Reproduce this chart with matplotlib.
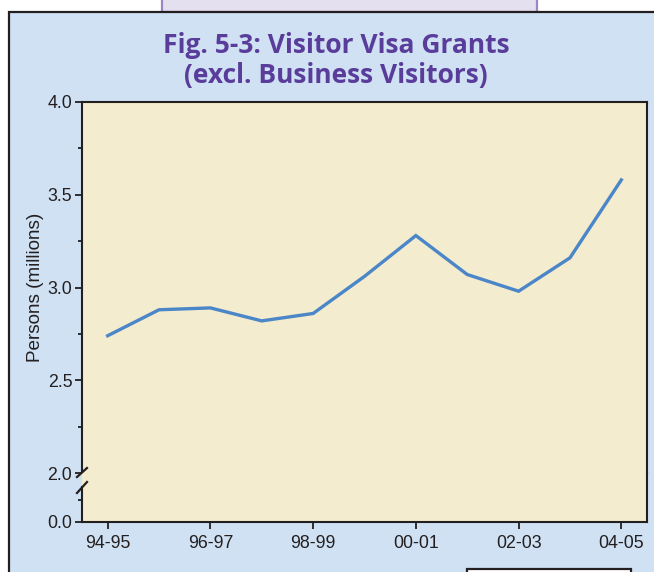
import matplotlib
matplotlib.use("Agg")
import matplotlib.pyplot as plt
from matplotlib.patches import Rectangle
from matplotlib.lines import Line2D
from matplotlib.ticker import FixedLocator

# ---- data ----
years = ["94-95", "95-96", "96-97", "97-98", "98-99", "99-00",
         "00-01", "01-02", "02-03", "03-04", "04-05"]
grants = [2.74, 2.88, 2.89, 2.82, 2.86, 3.06, 3.28, 3.07, 2.98, 3.16, 3.58]
upper_ticks = [2.0, 2.5, 3.0, 3.5, 4.0]
upper_minor = [2.25, 2.75, 3.25, 3.75]
lower_ticks = [0.0]
title = "Fig. 5-3: Visitor Visa Grants\n(excl. Business Visitors)"
ylabel = "Persons (millions)"

# ---- style ----
W, H = 654, 572
DARK = "#231f20"
BEIGE = "#f3ecce"
BLUE_PANEL = "#cfe1f3"
LINE = "#4a86c8"
PURPLE = "#5a3d9a"
plt.rcParams["font.family"] = ["Liberation Sans", "DejaVu Sans"]

fig = plt.figure(figsize=(W / 100, H / 100), dpi=100)
fig.patch.set_facecolor("white")


def fx(px):
    return px / W


def fy(py):
    return 1 - py / H


# background decorations
fig.add_artist(Rectangle((fx(162), fy(12)), fx(537) - fx(162), 0.2,
                         transform=fig.transFigure, facecolor="#e4e0f0",
                         edgecolor="#9b85c4", lw=1.6, zorder=-3))
fig.add_artist(Rectangle((fx(9), -0.2), 1.2, fy(12) + 0.2,
                         transform=fig.transFigure, facecolor=BLUE_PANEL,
                         edgecolor=DARK, lw=1.6, zorder=-2))
fig.add_artist(Rectangle((fx(467), -0.2), fx(631) - fx(467), fy(569) + 0.2,
                         transform=fig.transFigure, facecolor="white",
                         edgecolor=DARK, lw=1.6, zorder=-1))

L, R = 82, 647
TOP, MID, BOT = 102, 473, 522
ax_top = fig.add_axes([fx(L), fy(MID), fx(R) - fx(L), fy(TOP) - fy(MID)])
ax_bot = fig.add_axes([fx(L), fy(BOT), fx(R) - fx(L), fy(MID) - fy(BOT)])

x = list(range(len(years)))
for ax in (ax_top, ax_bot):
    ax.set_facecolor(BEIGE)
    ax.set_xlim(-0.5, len(years) - 0.5)
    for s in ax.spines.values():
        s.set_color(DARK)
        s.set_linewidth(1.5)
    ax.tick_params(direction="out", length=5, width=1.3, color=DARK,
                   labelcolor=DARK, labelsize=12.8, pad=2)
    ax.tick_params(which="minor", direction="out", length=3, width=1.3, color=DARK)

ax_top.plot(x, grants, color=LINE, lw=2.4, solid_joinstyle="miter")
ax_top.set_ylim(2.0, 4.0)
ax_top.set_yticks(upper_ticks)
ax_top.set_yticklabels([f"{v:.1f}" for v in upper_ticks])
ax_top.yaxis.set_minor_locator(FixedLocator(upper_minor))
ax_top.spines["bottom"].set_visible(False)
ax_top.tick_params(axis="x", which="both", bottom=False, labelbottom=False)
ax_top.set_ylabel(ylabel, fontsize=13.6, color=DARK)
ax_top.yaxis.set_label_coords(-0.068, 0.5)

ax_bot.set_ylim(0.0, 2.0 * (BOT - MID) / (MID - TOP))
ax_bot.set_yticks(lower_ticks)
ax_bot.set_yticklabels([f"{v:.1f}" for v in lower_ticks])
ax_bot.yaxis.set_minor_locator(FixedLocator([0.12]))
ax_bot.spines["top"].set_visible(False)
ax_bot.spines["left"].set_bounds(0.0, 0.19)
ax_bot.set_xticks(x[::2])
ax_bot.set_xticklabels(years[::2])
ax_bot.tick_params(axis="x", pad=4)

# axis-break slashes
for y0, y1 in ((477, 468), (493, 482)):
    fig.add_artist(Line2D([fx(77), fx(87)], [fy(y0), fy(y1)],
                          transform=fig.transFigure, color=DARK, lw=1.6))

fig.text(fx(336), fy(32), title, ha="center", va="top", color=PURPLE,
         fontsize=19, fontweight="bold", family=["Open Sans", "DejaVu Sans"],
         linespacing=1.16)

fig.savefig("out.png", dpi=100)
